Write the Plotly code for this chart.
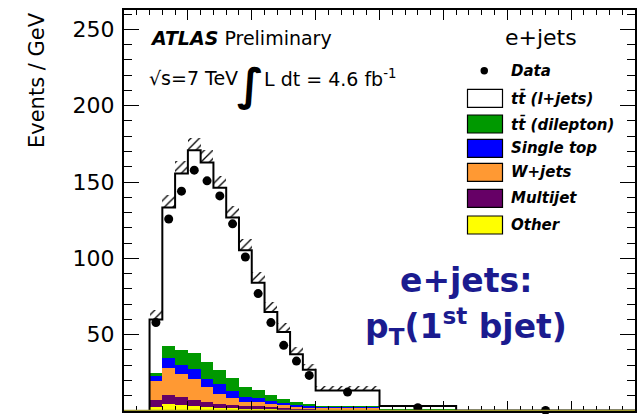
import numpy as np
import plotly.graph_objects as go

# Binning of the leading b-jet pT (GeV)
edges = [20, 30, 40, 50, 60, 70, 80, 90, 100, 110, 120, 130, 140, 150, 200, 260, 400]

# Events / GeV per bin
data = [58.0, 125.8, 144.0, 157.8, 150.8, 140.9, 122.6, 100.9, 76.9, 57.9, 43.0, 32.7, 23.3, 12.4, 2.2, 0.4]
other = [2.6, 4.3, 3.7, 3.0, 2.6, 2.2, 1.7, 1.2, 1.5, 1.0, 0.8, 0.6, 0.5, 0.4, 0.15, 0.02]
multijet = [4.4, 5.9, 5.4, 4.4, 3.2, 2.6, 2.0, 1.8, 1.5, 1.6, 1.4, 1.1, 1.0, 0.8, 0.2, 0.03]
wjets = [12.6, 17.9, 15.4, 13.8, 9.9, 6.5, 4.8, 2.8, 2.8, 2.2, 1.5, 1.3, 1.1, 1.0, 0.3, 0.05]
single_top = [3.1, 6.9, 5.9, 6.5, 5.5, 6.1, 4.4, 3.3, 2.9, 1.7, 1.5, 1.1, 0.9, 0.6, 0.15, 0.03]
ttbar_dilepton = [2.2, 7.4, 9.3, 10.5, 10.9, 9.2, 8.7, 6.6, 4.8, 3.7, 2.4, 1.7, 1.3, 0.7, 0.2, 0.03]
ttbar_ljets = [35.0, 90.9, 115.9, 132.7, 130.7, 119.6, 105.2, 89.6, 70.6, 54.7, 44.1, 31.3, 22.3, 10.0, 2.2, 0.24]
# Absolute total-prediction uncertainty (Events / GeV)
mc_unc = [6.0, 8.0, 8.0, 8.0, 8.0, 8.0, 7.5, 7.5, 7.0, 6.5, 6.0, 5.0, 4.0, 3.0, 0.6, 0.1]

y_ticks = [50, 100, 150, 200, 250]

edges_a = np.array(edges, dtype=float)
centers = 0.5 * (edges_a[:-1] + edges_a[1:])
widths = np.diff(edges_a)

stack = [
    ("Other", other, "#ffff00"),
    ("Multijet", multijet, "#660066"),
    ("W+jets", wjets, "#ff9933"),
    ("Single top", single_top, "#0000ff"),
    ("tt (dilepton)", ttbar_dilepton, "#009900"),
    ("tt (l+jets)", ttbar_ljets, "#ffffff"),
]
total = np.sum([np.array(v) for _, v, _ in stack], axis=0)
unc = np.array(mc_unc)

fig = go.Figure()

# Hatched uncertainty band (lower half ends up under the white signal bars)
fig.add_trace(go.Bar(
    x=centers, y=2 * unc, base=total - unc, width=widths,
    marker=dict(color="rgba(0,0,0,0)", line=dict(width=0),
                pattern=dict(shape="/", fgcolor="black", bgcolor="rgba(0,0,0,0)",
                             fgopacity=1, size=6, solidity=0.22, fillmode="overlay")),
    showlegend=False, hoverinfo="skip"))

base = np.zeros(len(centers))
for name, vals, col in stack:
    v = np.array(vals)
    fig.add_trace(go.Bar(
        x=centers, y=v, base=base.copy(), width=widths, name=name,
        marker=dict(color=col, line=dict(width=0)), showlegend=False))
    base = base + v

# Outline of the total prediction
step_x = [edges_a[0]] + list(edges_a)
step_y = [0.0] + list(total) + [total[-1]]
fig.add_trace(go.Scatter(x=step_x, y=step_y, mode="lines", line_shape="hv",
                         line=dict(color="black", width=2), showlegend=False,
                         hoverinfo="skip"))

# Data
fig.add_trace(go.Scatter(x=centers, y=data, mode="markers",
                         marker=dict(color="black", size=9), showlegend=False,
                         cliponaxis=False))

L, R, T, B = 124, 635, 10, 411
W, H = 639, 414


def px(x):
    return (x - L) / (R - L)


def py(y):
    return (B - y) / (B - T)


font = "DejaVu Sans"
ann = []


def text(s, x, y, size, xanchor="left", yanchor="middle", color="black", angle=0):
    ann.append(dict(text=s, x=px(x), y=py(y), xref="paper", yref="paper",
                    xanchor=xanchor, yanchor=yanchor, showarrow=False,
                    textangle=angle,
                    font=dict(family=font, size=size, color=color)))


text("<b><i>ATLAS</i></b> Preliminary", 148, 38, 19)
text("√s=7 TeV", 147, 78, 19)
text("<b>∫</b>", 250, 84, 44, xanchor="center")
text("L dt = 4.6 fb<sup>-1</sup>", 262, 78, 19)
text("e+jets", 541, 38, 22, xanchor="center")

legend_rows = [
    ("Data", 70.7, None),
    ("tt\u0304 (l+jets)", 98.3, "#ffffff"),
    ("tt\u0304 (dilepton)", 124.0, "#009900"),
    ("Single top", 148.3, "#0000ff"),
    ("W+jets", 172.3, "#ff9933"),
    ("Multijet", 198.3, "#660066"),
    ("Other", 225.0, "#ffff00"),
]
shapes = []
for label, yc, col in legend_rows:
    text("<b><i>%s</i></b>" % label, 509, yc, 15)
    if col is None:
        shapes.append(dict(type="circle", xref="paper", yref="paper",
                           x0=px(480.5), x1=px(488), y0=py(yc + 3.7), y1=py(yc - 3.7),
                           fillcolor="black", line=dict(width=0)))
    else:
        shapes.append(dict(type="rect", xref="paper", yref="paper",
                           x0=px(467.5), x1=px(502.5), y0=py(yc + 9), y1=py(yc - 9),
                           fillcolor=col, line=dict(color="black", width=1.2)))

navy = "#1b1b8f"
text("<b>e+jets:</b>", 466, 280, 33, xanchor="center", color=navy)
text("<b>p<sub>T</sub>(1<sup>st</sup> bjet)</b>", 466, 326, 33, xanchor="center", color=navy)

text("Events / GeV", 37, 10, 21, xanchor="center", yanchor="top", angle=-90)

# Bottom frame edge
shapes.append(dict(type="line", xref="paper", yref="y", x0=0, x1=1, y0=0, y1=0,
                   line=dict(color="#a09a30", width=2.5), layer="above"))

fig.update_layout(
    width=W, height=H,
    margin=dict(l=L, r=W - R, t=T, b=H - B, pad=0),
    paper_bgcolor="white", plot_bgcolor="white",
    barmode="overlay", bargap=0,
    font=dict(family=font, color="black"),
    annotations=ann, shapes=shapes, showlegend=False,
    xaxis=dict(range=[0, 400], showgrid=False, zeroline=False,
               showline=True, linecolor="black", linewidth=2, mirror="allticks",
               ticks="inside", ticklen=10, tickwidth=1.3, tickcolor="black",
               dtick=50, tick0=0, showticklabels=False,
               minor=dict(ticks="inside", ticklen=5, tickwidth=1.2,
                          tickcolor="black", dtick=10, showgrid=False)),
    yaxis=dict(range=[0, 262.7], showgrid=False, zeroline=False,
               showline=True, linecolor="black", linewidth=2, mirror="allticks",
               ticks="inside", ticklen=15, tickwidth=1.3, tickcolor="black",
               tickvals=y_ticks, ticktext=[str(v) for v in y_ticks],
               tickfont=dict(family=font, size=22, color="black"),
               ticklabelstandoff=3,
               minor=dict(ticks="inside", ticklen=8, tickwidth=1.2,
                          tickcolor="black", dtick=10, tick0=0, showgrid=False)),
)

fig.write_html("out.html")
